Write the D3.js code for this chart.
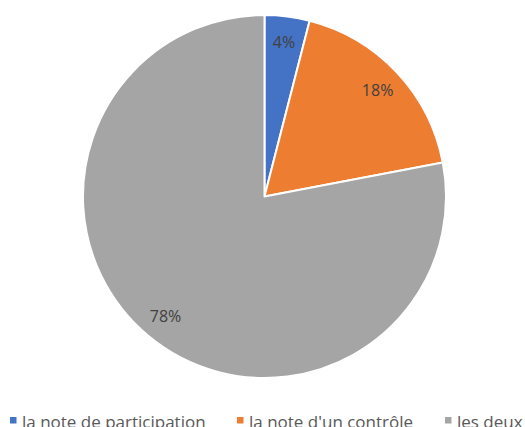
<!DOCTYPE html>
<html>
<head>
<meta charset="utf-8">
<script src="https://cdn.jsdelivr.net/npm/d3@7"></script>
<style>
  body { margin: 0; background: #fff; }
  svg { display: block; }
</style>
</head>
<body>
<div id="chart"></div>
<script>
const categories = ["la note de participation", "la note d'un contrôle", "les deux"];
const values = [4, 18, 78];
const colors = ["#4472C4", "#ED7D31", "#A5A5A5"];

const width = 525, height = 427;
const cx = 264.5, cy = 196.5, radius = 181.5;
const font = "'Open Sans', sans-serif";

const svg = d3.select("#chart").append("svg")
  .attr("width", width)
  .attr("height", height);

const pie = d3.pie().sort(null).value(d => d);
const arcs = pie(values);
const arc = d3.arc().innerRadius(0).outerRadius(radius);
const labelArc = d3.arc().innerRadius(radius * 0.855).outerRadius(radius * 0.855);

const g = svg.append("g").attr("transform", `translate(${cx},${cy})`);

g.selectAll("path")
  .data(arcs)
  .join("path")
  .attr("d", arc)
  .attr("fill", (d, i) => colors[i])
  .attr("stroke", "#fff")
  .attr("stroke-width", 2)
  .attr("stroke-linejoin", "round");

g.selectAll("text")
  .data(arcs)
  .join("text")
  .attr("transform", d => `translate(${labelArc.centroid(d)})`)
  .attr("text-anchor", "middle")
  .attr("dy", "0.35em")
  .attr("font-family", font)
  .attr("font-size", 16)
  .attr("fill", "#404040")
  .text(d => d.data + "%");

// legend (sits at the bottom edge, partly clipped like the original)
const legendX = [10, 237, 445];
const legend = svg.append("g").attr("font-family", font);
categories.forEach((c, i) => {
  const item = legend.append("g").attr("transform", `translate(${legendX[i]},0)`);
  item.append("rect")
    .attr("x", 0).attr("y", 417)
    .attr("width", 6.5).attr("height", 6.5)
    .attr("fill", colors[i]);
  item.append("text")
    .attr("x", 12).attr("y", 427.5)
    .attr("font-size", 17)
    .attr("fill", "#595959")
    .text(c);
});
</script>
</body>
</html>
